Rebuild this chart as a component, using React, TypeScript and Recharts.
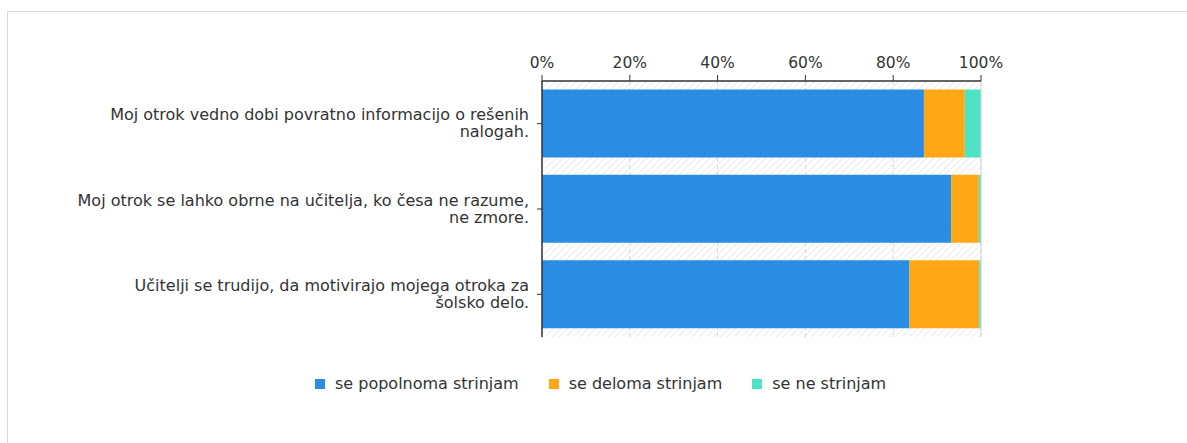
import React from 'react';
import {
  BarChart,
  Bar,
  XAxis,
  YAxis,
  CartesianGrid,
  ReferenceLine,
  Legend,
} from 'recharts';

const categories = [
  'Moj otrok vedno dobi povratno informacijo o rešenih\nnalogah.',
  'Moj otrok se lahko obrne na učitelja, ko česa ne razume,\nne zmore.',
  'Učitelji se trudijo, da motivirajo mojega otroka za\nšolsko delo.',
];

const popolnoma = [87.0, 93.2, 83.7];
const deloma = [9.3, 6.3, 15.9];
const neStrinjam = [3.7, 0.5, 0.4];

const percentTicks = [0, 20, 40, 60, 80, 100];

const seriesNames = ['se popolnoma strinjam', 'se deloma strinjam', 'se ne strinjam'];
const seriesColors = ['#2A8DE3', '#FDA814', '#4FE3C6'];

const data = categories.map((name, i) => ({
  name,
  a: popolnoma[i],
  b: deloma[i],
  c: neStrinjam[i],
}));

const FONT = '"DejaVu Sans", Verdana, sans-serif';
const TEXT = '#333333';

const CategoryTick = ({ x, y, payload }: any) => {
  const lines = String(payload.value).split('\n');
  return (
    <text x={x} y={y} textAnchor="end" fill={TEXT} fontSize={16} fontFamily={FONT}>
      {lines.map((line, i) => (
        <tspan key={i} x={x} y={y + (i - (lines.length - 1) / 2) * 17 + 5}>
          {line}
        </tspan>
      ))}
    </text>
  );
};

const LegendContent = () => (
  <div style={{ display: 'flex', alignItems: 'center', fontFamily: FONT, fontSize: 16, color: TEXT }}>
    {seriesNames.map((n, i) => (
      <div key={n} style={{ display: 'flex', alignItems: 'center', marginRight: 30 }}>
        <span style={{ width: 10, height: 10, background: seriesColors[i], marginRight: 10, display: 'inline-block' }} />
        <span>{n}</span>
      </div>
    ))}
  </div>
);

export default function App() {
  return (
    <div style={{ position: 'relative', width: 1187, height: 443, overflow: 'hidden', background: '#fff' }}>
      <style>{`body{margin:0;overflow:hidden;}`}</style>
      <div
        style={{
          position: 'absolute',
          left: 7,
          top: 11,
          width: 1200,
          height: 500,
          border: '1px solid #d9d9d9',
        }}
      />
      <div style={{ position: 'absolute', left: 0, top: 0 }}>
        <BarChart
          width={1187}
          height={443}
          data={data}
          layout="vertical"
          margin={{ top: 51, right: 206, bottom: 106, left: 0 }}
          barCategoryGap="10%"
        >
          <defs>
            <pattern id="hatch" patternUnits="userSpaceOnUse" width="7" height="7">
              <rect width="7" height="7" fill="#ffffff" />
              <path d="M-1,1 l2,-2 M0,7 l7,-7 M6,8 l2,-2" stroke="#e6e6e6" strokeWidth="1" />
            </pattern>
          </defs>
          <CartesianGrid
            horizontal={false}
            stroke="#d6d6d6"
            strokeDasharray="4 3"
            fill="url(#hatch)"
            fillOpacity={1}
          />
          <ReferenceLine x={100} stroke="#d6d6d6" />
          <XAxis
            type="number"
            orientation="top"
            domain={[0, 100]}
            ticks={percentTicks}
            tickFormatter={(v) => `${v}%`}
            height={30}
            tickSize={6}
            tickMargin={7}
            axisLine={{ stroke: '#333', strokeWidth: 1.5 }}
            tickLine={{ stroke: '#333' }}
            tick={{ fill: TEXT, fontSize: 15.5, fontFamily: FONT }}
            interval={0}
          />
          <YAxis
            type="category"
            dataKey="name"
            width={542}
            tickSize={5}
            tickMargin={8}
            axisLine={{ stroke: '#333', strokeWidth: 1.5 }}
            tickLine={{ stroke: '#333' }}
            tick={<CategoryTick />}
            interval={0}
          />
          <Legend
            layout="vertical"
            align="center"
            verticalAlign="middle"
            content={<LegendContent />}
            wrapperStyle={{ top: 374, left: 315, width: 700, height: 20 }}
          />
          <Bar dataKey="a" name={seriesNames[0]} stackId="s" fill={seriesColors[0]} isAnimationActive={false} />
          <Bar dataKey="b" name={seriesNames[1]} stackId="s" fill={seriesColors[1]} isAnimationActive={false} />
          <Bar dataKey="c" name={seriesNames[2]} stackId="s" fill={seriesColors[2]} isAnimationActive={false} />
        </BarChart>
      </div>
    </div>
  );
}
